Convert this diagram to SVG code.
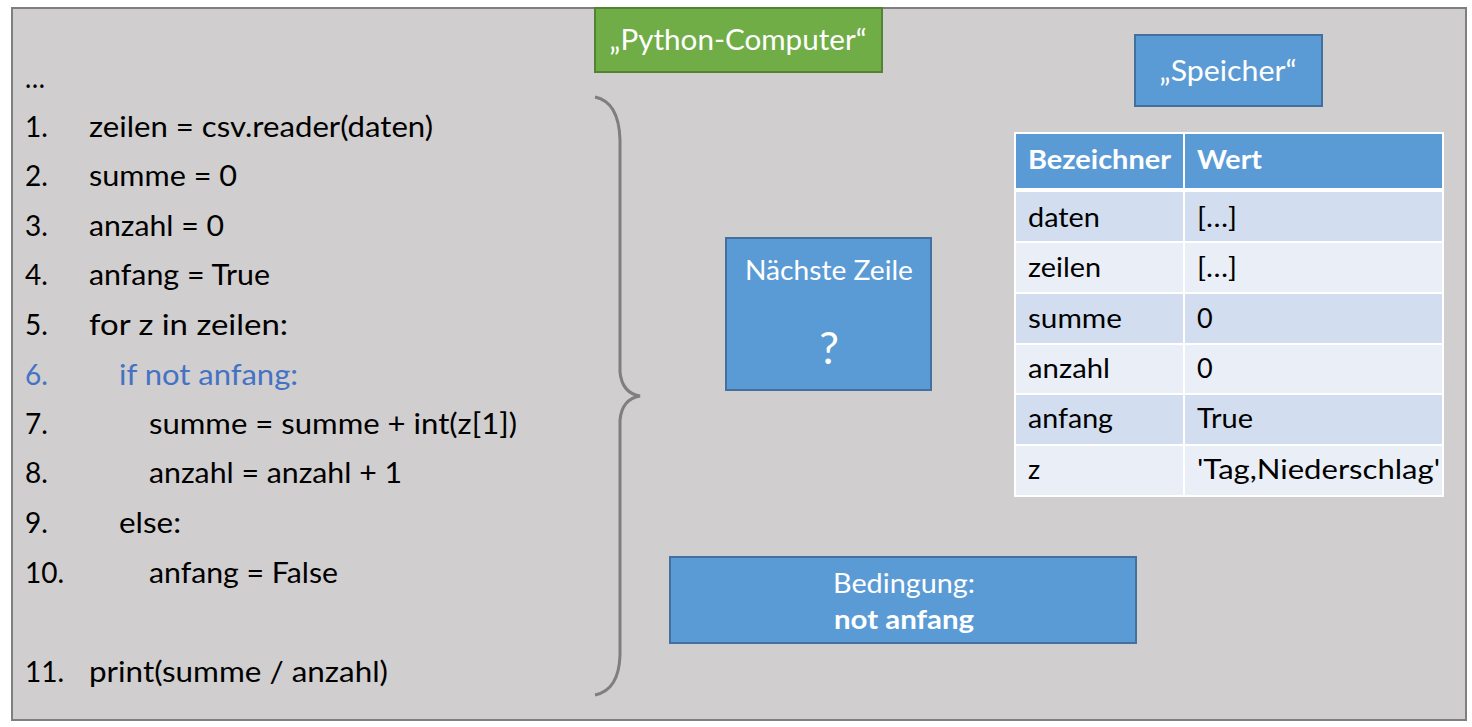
<svg xmlns="http://www.w3.org/2000/svg" width="1472" height="727" viewBox="0 0 1472 727">
<style>
text{font-family:Lato,"Open Sans","Noto Sans",sans-serif;}
.code{font-size:28px;fill:#000;}
.blue{fill:#4472c4;}
.w{fill:#fff;}
.tb{font-size:27px;fill:#000;}
.th{font-size:27px;fill:#fff;font-weight:bold;}
.box{fill:#5b9bd5;stroke:#41719c;stroke-width:2;}
.c{text-anchor:middle;}
</style>
<rect x="12" y="8" width="1454" height="712" fill="#d0cece" stroke="#7f7f7f" stroke-width="2"/>
<g id="code">
<text class="code" x="25" y="88" textLength="20" lengthAdjust="spacingAndGlyphs">…</text>
<text class="code" x="25" y="137">1.</text><text class="code" x="89" y="137" textLength="344" lengthAdjust="spacingAndGlyphs">zeilen = csv.reader(daten)</text>
<text class="code" x="25" y="186">2.</text><text class="code" x="89" y="186" textLength="148" lengthAdjust="spacingAndGlyphs">summe = 0</text>
<text class="code" x="25" y="236">3.</text><text class="code" x="89" y="236" textLength="135" lengthAdjust="spacingAndGlyphs">anzahl = 0</text>
<text class="code" x="25" y="285">4.</text><text class="code" x="89" y="285" textLength="181" lengthAdjust="spacingAndGlyphs">anfang = True</text>
<text class="code" x="25" y="335">5.</text><text class="code" x="89" y="335" textLength="199" lengthAdjust="spacingAndGlyphs">for z in zeilen:</text>
<text class="code blue" x="25" y="385">6.</text><text class="code blue" x="119" y="385" textLength="179" lengthAdjust="spacingAndGlyphs">if not anfang:</text>
<text class="code" x="25" y="434">7.</text><text class="code" x="149" y="434" textLength="368" lengthAdjust="spacingAndGlyphs">summe = summe + int(z[1])</text>
<text class="code" x="25" y="483">8.</text><text class="code" x="149" y="483" textLength="253" lengthAdjust="spacingAndGlyphs">anzahl = anzahl + 1</text>
<text class="code" x="25" y="533">9.</text><text class="code" x="119" y="533" textLength="62" lengthAdjust="spacingAndGlyphs">else:</text>
<text class="code" x="25" y="583">10.</text><text class="code" x="149" y="583" textLength="189" lengthAdjust="spacingAndGlyphs">anfang = False</text>
<text class="code" x="25" y="682">11.</text><text class="code" x="89" y="682" textLength="299" lengthAdjust="spacingAndGlyphs">print(summe / anzahl)</text>
</g>
<g id="connectors">
<path d="M595,97 Q619,102 620,140 L620,372 Q622,393 640,396 Q622,399 620,420 L620,655 Q619,690 595,695" fill="none" stroke="#7f7f7f" stroke-width="3"/>
</g>
<g id="python-computer">
<rect x="595" y="8" width="287" height="64" fill="#70ad47" stroke="#548235" stroke-width="2"/>
<text class="w c" x="738" y="50" font-size="28" textLength="257" lengthAdjust="spacingAndGlyphs">„Python-Computer“</text>
</g>
<g id="speicher">
<rect class="box" x="1135" y="35" width="187" height="71"/>
<text class="w c" x="1228" y="81" font-size="28" textLength="137" lengthAdjust="spacingAndGlyphs">„Speicher“</text>
</g>
<g id="naechste-zeile">
<rect class="box" x="726" y="238" width="205" height="152"/>
<text class="w c" x="829" y="280" font-size="27" textLength="168" lengthAdjust="spacingAndGlyphs">Nächste Zeile</text>
<text class="w c" x="829" y="364" font-size="44">?</text>
</g>
<g id="bedingung">
<rect class="box" x="670" y="557" width="466" height="86"/>
<text class="w c" x="904" y="593" font-size="27" textLength="142" lengthAdjust="spacingAndGlyphs">Bedingung:</text>
<text class="w c" x="904" y="629" font-size="27" font-weight="bold" textLength="140" lengthAdjust="spacingAndGlyphs">not anfang</text>
</g>
<g id="tabelle">
<rect x="1015" y="133" width="428" height="57" fill="#5b9bd5"/>
<rect x="1015" y="190" width="428" height="52" fill="#d2deef"/>
<rect x="1015" y="242" width="428" height="51" fill="#eaeff7"/>
<rect x="1015" y="293" width="428" height="51" fill="#d2deef"/>
<rect x="1015" y="344" width="428" height="50" fill="#eaeff7"/>
<rect x="1015" y="394" width="428" height="51" fill="#d2deef"/>
<rect x="1015" y="445" width="428" height="51" fill="#eaeff7"/>
<g stroke="#fff" stroke-width="2" fill="none">
<rect x="1015" y="133" width="428" height="363"/>
<line x1="1184" y1="133" x2="1184" y2="496"/>
<line x1="1015" y1="190" x2="1443" y2="190" stroke-width="4"/>
<line x1="1015" y1="242" x2="1443" y2="242"/>
<line x1="1015" y1="293" x2="1443" y2="293"/>
<line x1="1015" y1="344" x2="1443" y2="344"/>
<line x1="1015" y1="394" x2="1443" y2="394"/>
<line x1="1015" y1="445" x2="1443" y2="445"/>
</g>
<text class="th" x="1028" y="169" textLength="143" lengthAdjust="spacingAndGlyphs">Bezeichner</text>
<text class="th" x="1197" y="169" textLength="65" lengthAdjust="spacingAndGlyphs">Wert</text>
<text class="tb" x="1028" y="227" textLength="72" lengthAdjust="spacingAndGlyphs">daten</text>
<text class="tb" x="1197" y="227" textLength="40" lengthAdjust="spacingAndGlyphs">[…]</text>
<text class="tb" x="1028" y="277" textLength="73" lengthAdjust="spacingAndGlyphs">zeilen</text>
<text class="tb" x="1197" y="277" textLength="40" lengthAdjust="spacingAndGlyphs">[…]</text>
<text class="tb" x="1028" y="328" textLength="94" lengthAdjust="spacingAndGlyphs">summe</text>
<text class="tb" x="1197" y="328">0</text>
<text class="tb" x="1028" y="378" textLength="82" lengthAdjust="spacingAndGlyphs">anzahl</text>
<text class="tb" x="1197" y="378">0</text>
<text class="tb" x="1028" y="428" textLength="85" lengthAdjust="spacingAndGlyphs">anfang</text>
<text class="tb" x="1197" y="428" textLength="56" lengthAdjust="spacingAndGlyphs">True</text>
<text class="tb" x="1028" y="479">z</text>
<text class="tb" x="1197" y="479" textLength="243" lengthAdjust="spacingAndGlyphs">'Tag,Niederschlag'</text>
</g>
</svg>
